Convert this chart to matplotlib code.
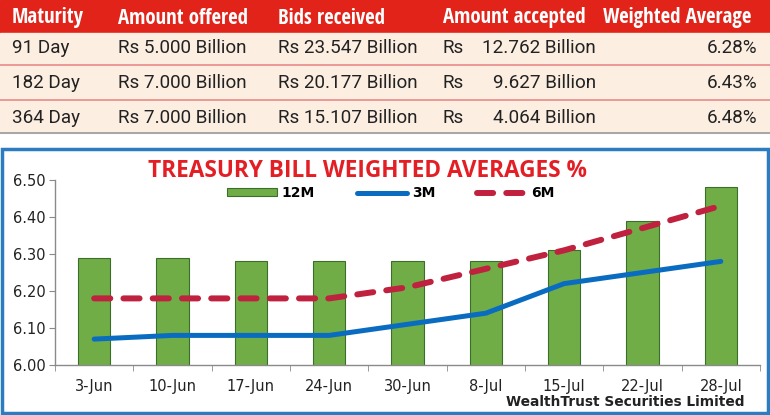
import matplotlib
matplotlib.use("Agg")
import matplotlib.pyplot as plt
from matplotlib.patches import Rectangle
from matplotlib.lines import Line2D
import numpy as np

# ---------------- data ----------------
header = ["Maturity", "Amount offered", "Bids received", "Amount accepted", "Weighted Average"]
maturity = ["91 Day", "182 Day", "364 Day"]
offered = ["Rs 5.000 Billion", "Rs 7.000 Billion", "Rs 7.000 Billion"]
bids = ["Rs 23.547 Billion", "Rs 20.177 Billion", "Rs 15.107 Billion"]
accepted = ["12.762 Billion", "9.627 Billion", "4.064 Billion"]
wavg = ["6.28%", "6.43%", "6.48%"]

dates = ["3-Jun", "10-Jun", "17-Jun", "24-Jun", "30-Jun", "8-Jul", "15-Jul", "22-Jul", "28-Jul"]
m12 = [6.29, 6.29, 6.28, 6.28, 6.28, 6.28, 6.31, 6.39, 6.48]
m3 = [6.07, 6.08, 6.08, 6.08, 6.11, 6.14, 6.22, 6.25, 6.28]
m6 = [6.18, 6.18, 6.18, 6.18, 6.21, 6.26, 6.31, 6.37, 6.43]

W, H = 770, 415
fig = plt.figure(figsize=(W / 100, H / 100), dpi=100)
def fx(x): return x / W
def fy(y): return 1 - y / H

NARROW = ["Open Sans Condensed", "Roboto Condensed", "Liberation Sans Narrow", "Liberation Sans"]

# ---------------- table ----------------
fig.patches.append(Rectangle((0, fy(33)), 1, 33 / H, transform=fig.transFigure,
                             color="#e2231a", zorder=-2))
fig.patches.append(Rectangle((0, fy(133)), 1, 100 / H, transform=fig.transFigure,
                             color="#fcefe2", zorder=-2))
for yy in (65, 100):
    fig.add_artist(Line2D([0, 1], [fy(yy), fy(yy)], transform=fig.transFigure,
                          color="#e88a8a", lw=1.2))
fig.add_artist(Line2D([0, 1], [fy(133), fy(133)], transform=fig.transFigure,
                      color="#9a9a9a", lw=1.2))

hx = [12, 118, 278, 443, 603]
for x, t in zip(hx, header):
    fig.text(fx(x), fy(18), t, color="white", fontsize=15, fontweight="bold",
             family=NARROW, va="center", ha="left")
rows_y = [48, 83, 118]
for i, yy in enumerate(rows_y):
    kw = dict(fontsize=13.6, family="Roboto", va="center", color="#222222")
    fig.text(fx(12), fy(yy), maturity[i], ha="left", **kw)
    fig.text(fx(118), fy(yy), offered[i], ha="left", **kw)
    fig.text(fx(278), fy(yy), bids[i], ha="left", **kw)
    fig.text(fx(443), fy(yy), "Rs", ha="left", **kw)
    fig.text(fx(596), fy(yy), accepted[i], ha="right", **kw)
    fig.text(fx(757), fy(yy), wavg[i], ha="right", **kw)

# ---------------- chart ----------------
fig.patches.append(Rectangle((fx(2), fy(413)), 766 / W, 264 / H, transform=fig.transFigure,
                             facecolor="white", edgecolor="#2b7cc0", lw=2.5, zorder=-1))

ax = fig.add_axes([fx(55), fy(365), 705 / W, 185 / H], zorder=2)
x = np.arange(len(dates))
bars = ax.bar(x, m12, width=0.41, bottom=0, color="#70ad47", edgecolor="#3b6e2a", lw=0.8,
              label="12M", zorder=2)
l3, = ax.plot(x, m3, color="#0a6cc0", lw=3.6, solid_capstyle="round", label="3M", zorder=3)
l6, = ax.plot(x, m6, color="#c0213e", lw=4.3, dashes=(2.7, 2.2), dash_capstyle="round",
              label="6M", zorder=3)

ax.set_ylim(6.0, 6.5)
ax.set_xlim(-0.5, len(dates) - 0.5)
yt = np.arange(6.0, 6.51, 0.1)
ax.set_yticks(yt)
ax.set_yticklabels([f"{v:.2f}" for v in yt])
ax.set_xticks(x)
ax.set_xticklabels(dates)
ax.set_xticks(np.arange(-0.5, len(dates)), minor=True)
ax.tick_params(axis="x", which="major", length=0, pad=10, labelsize=10.5)
ax.tick_params(axis="x", which="minor", length=4, color="#8a8a8a", direction="out")
ax.tick_params(axis="y", length=4, color="#8a8a8a", labelsize=10.5, pad=3)
for lab in ax.get_xticklabels() + ax.get_yticklabels():
    lab.set_family("DejaVu Sans")
    lab.set_color("#222222")
for s in ("top", "right"):
    ax.spines[s].set_visible(False)
for s in ("left", "bottom"):
    ax.spines[s].set_color("#8a8a8a")
    ax.spines[s].set_linewidth(1.0)
ax.set_facecolor("none")

fig.text(fx(368), fy(171), "TREASURY BILL WEIGHTED AVERAGES %", color="#e31e24",
         fontsize=16.3, fontweight="bold", family="Open Sans", ha="center", va="center")
leg = ax.legend([bars, l3, l6], ["12M", "3M", "6M"], loc="center left",
                bbox_to_anchor=(fx(227), fy(193)), bbox_transform=fig.transFigure,
                ncol=3, frameon=False, borderaxespad=0, borderpad=0,
                handlelength=3.6, handleheight=0.45, columnspacing=3.0, handletextpad=0.35,
                prop={"family": "DejaVu Sans", "weight": "bold", "size": 10})

fig.text(fx(745), fy(402), "WealthTrust Securities Limited", fontsize=9.9,
         fontweight="bold", family="DejaVu Sans", ha="right", va="center", color="#222222")

fig.savefig("out.png", dpi=100)
